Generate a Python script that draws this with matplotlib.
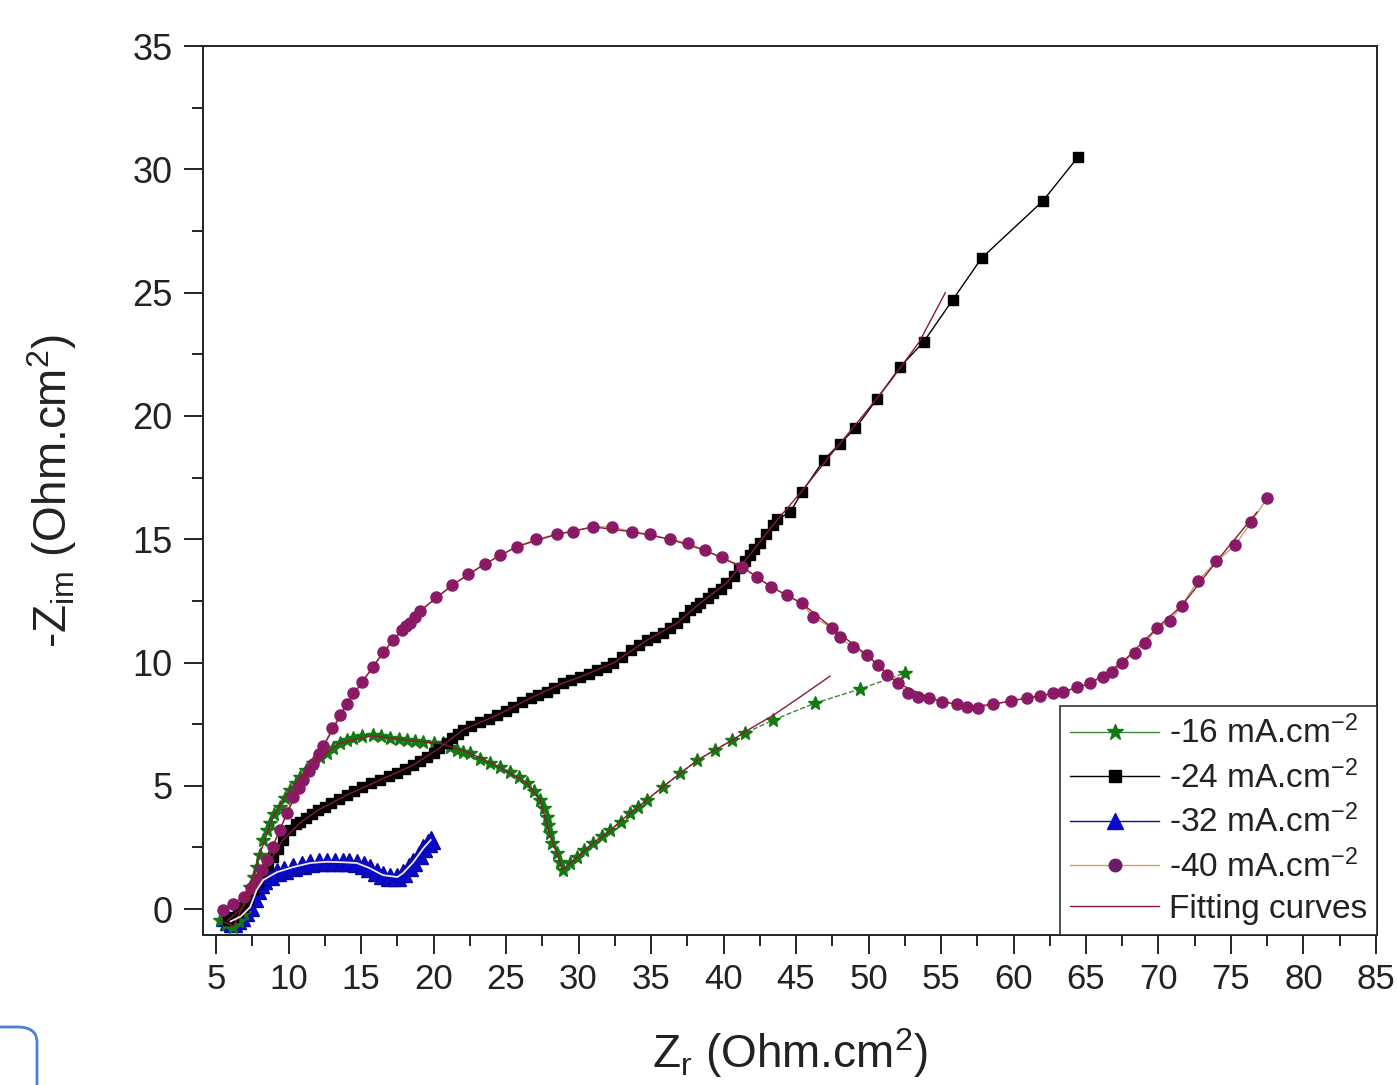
import matplotlib
matplotlib.use('Agg')
import matplotlib.pyplot as plt
from matplotlib.patches import FancyBboxPatch
from matplotlib.lines import Line2D
from matplotlib.ticker import MultipleLocator

plt.rcParams['font.family'] = ['Liberation Sans', 'DejaVu Sans']
plt.rcParams['mathtext.fontset'] = 'custom'
plt.rcParams['mathtext.rm'] = 'Liberation Sans'
plt.rcParams['mathtext.it'] = 'Liberation Sans'
plt.rcParams['mathtext.default'] = 'regular'

# ---------------- data ----------------
labels = ['-16 mA.cm$^{-2}$', '-24 mA.cm$^{-2}$', '-32 mA.cm$^{-2}$', '-40 mA.cm$^{-2}$', 'Fitting curves']

g16_x = [5.3, 5.7, 6.2, 6.6, 6.9, 7.1, 7.35, 7.6, 7.8, 8.0, 8.25, 8.5, 8.7, 9.0, 9.4, 9.75, 10.1, 10.5,
         10.8, 11.2, 11.7, 12.2, 12.65, 13.1, 13.55, 14.0, 14.45, 15.1, 15.8, 16.4, 17.0, 17.6, 18.2,
         18.7, 19.3, 20.0, 20.65, 21.15, 21.6, 22.0, 22.5, 23.2, 23.9, 24.6, 25.3, 25.9, 26.45, 26.9,
         27.35, 27.6, 27.8, 27.9, 28.0, 28.2, 28.5, 28.7, 28.9, 29.4, 29.9, 30.4, 31.0, 31.6, 32.2,
         32.9, 33.55, 34.1, 34.7, 35.8, 37.0, 38.2, 39.4, 40.6, 41.5, 43.4, 46.3, 49.4, 52.5]
g16_y = [-0.45, -0.6, -0.73, -0.5, -0.16, 0.4, 0.9, 1.3, 1.7, 2.2, 2.8, 3.2, 3.5, 3.85, 4.14, 4.5, 4.83,
         5.1, 5.35, 5.65, 5.92, 6.15, 6.33, 6.55, 6.73, 6.85, 6.93, 7.0, 7.06, 7.0, 6.93, 6.9, 6.85, 6.8,
         6.77, 6.75, 6.73, 6.57, 6.45, 6.37, 6.33, 6.1, 5.92, 5.75, 5.56, 5.35, 5.1, 4.8, 4.42, 4.1,
         3.73, 3.4, 3.08, 2.7, 2.27, 1.9, 1.58, 1.85, 2.1, 2.4, 2.68, 2.95, 3.2, 3.55, 3.9, 4.15, 4.42,
         4.95, 5.5, 6.04, 6.45, 6.85, 7.14, 7.66, 8.35, 8.92, 9.57]

b24_x = [5.8, 6.2, 6.5, 6.86, 7.2, 7.55, 7.9, 8.2, 8.55, 8.9, 9.25, 9.6, 10.1, 10.5, 10.8, 11.2, 11.6,
         12.0, 12.5, 12.9, 13.5, 14.0, 14.5, 15.1, 15.7, 16.3, 16.9, 17.5, 18.0, 18.6, 19.1, 19.55,
         20.0, 20.4, 20.9, 21.3, 21.7, 22.0, 22.6, 23.2, 23.8, 24.4, 25.0, 25.5, 26.1, 26.7, 27.2,
         27.8, 28.3, 28.9, 29.5, 30.1, 30.7, 31.3, 31.9, 32.4, 33.0, 33.6, 34.2, 34.7, 35.3, 35.8,
         36.3, 36.8, 37.3, 37.7, 38.1, 38.4, 38.9, 39.3, 39.8, 40.2, 40.7, 41.1, 41.5, 41.8, 42.1,
         42.5, 42.9, 43.4, 43.7, 44.6, 45.4, 46.9, 48.0, 49.1, 50.6, 52.2, 53.8, 55.8, 57.8, 62.0, 64.45]
b24_y = [-0.45, -0.3, -0.1, 0.08, 0.4, 0.77, 1.1, 1.46, 1.8, 2.1, 2.45, 2.8, 3.2, 3.45, 3.55, 3.7, 3.85,
         4.0, 4.15, 4.3, 4.45, 4.62, 4.78, 4.95, 5.1, 5.23, 5.38, 5.52, 5.68, 5.84, 6.0, 6.16, 6.35,
         6.53, 6.73, 6.93, 7.1, 7.26, 7.42, 7.58, 7.72, 7.87, 8.03, 8.19, 8.38, 8.56, 8.68, 8.8, 8.98,
         9.16, 9.28, 9.41, 9.55, 9.69, 9.83, 9.98, 10.24, 10.5, 10.7, 10.9, 11.05, 11.19, 11.4, 11.6,
         11.86, 12.12, 12.27, 12.41, 12.6, 12.81, 13.0, 13.22, 13.5, 13.83, 14.1, 14.36, 14.6, 14.84,
         15.2, 15.57, 15.8, 16.1, 16.9, 18.2, 18.86, 19.5, 20.7, 22.0, 23.0, 24.7, 26.4, 28.7, 30.5]

b32_x = [5.6, 5.9, 6.2, 6.45, 6.7, 7.0, 7.35, 7.6, 7.8, 8.0, 8.25, 8.7, 9.2, 9.7, 10.3, 10.9, 11.5, 12.1,
         12.65, 13.2, 13.75, 14.2, 14.7, 15.2, 15.6, 16.1, 16.5, 17.0, 17.5, 17.9, 18.3, 18.6, 19.0,
         19.3, 19.6, 19.8]
b32_y = [-0.3, -0.5, -0.55, -0.45, -0.3, -0.1, 0.08, 0.45, 0.77, 1.0, 1.18, 1.35, 1.5, 1.6, 1.7, 1.78,
         1.87, 1.9, 1.92, 1.92, 1.9, 1.9, 1.87, 1.78, 1.66, 1.5, 1.38, 1.3, 1.3, 1.46, 1.7, 1.9, 2.2,
         2.47, 2.7, 2.8]

p40_x = [5.5, 6.2, 6.9, 7.4, 7.8, 8.2, 8.5, 8.9, 9.4, 9.9, 10.3, 10.7, 11.0, 11.4, 11.7, 12.1, 12.4, 13.0,
         13.55, 14.0, 14.45, 15.1, 15.8, 16.5, 17.2, 17.8, 18.1, 18.4, 18.7, 19.1, 20.2, 21.3, 22.4,
         23.55, 24.6, 25.75, 27.1, 28.5, 29.6, 31.0, 32.3, 33.7, 34.9, 36.3, 37.55, 38.7, 39.9, 41.3,
         42.3, 43.3, 44.4, 45.4, 46.2, 47.5, 48.0, 48.9, 49.9, 50.65, 51.3, 52.0, 52.7, 53.4, 54.2,
         55.1, 56.1, 56.8, 57.55, 58.6, 59.8, 60.9, 61.8, 62.7, 63.4, 64.4, 65.3, 66.2, 66.8, 67.5,
         68.4, 69.1, 69.9, 70.8, 71.6, 72.7, 74.0, 75.3, 76.4, 77.5]
p40_y = [-0.05, 0.2, 0.5, 0.85, 1.18, 1.6, 2.0, 2.5, 3.2, 3.9, 4.54, 4.9, 5.23, 5.6, 5.9, 6.3, 6.6, 7.34,
         7.87, 8.3, 8.76, 9.2, 9.81, 10.42, 10.9, 11.3, 11.5, 11.6, 11.85, 12.1, 12.65, 13.14, 13.6,
         14.0, 14.35, 14.7, 15.0, 15.2, 15.3, 15.5, 15.5, 15.3, 15.2, 15.0, 14.85, 14.55, 14.27, 13.87,
         13.46, 13.06, 12.73, 12.4, 11.84, 11.4, 11.03, 10.62, 10.3, 9.89, 9.49, 9.16, 8.76, 8.6, 8.56,
         8.39, 8.31, 8.19, 8.15, 8.31, 8.43, 8.56, 8.64, 8.76, 8.8, 9.0, 9.16, 9.4, 9.6, 10.0, 10.4,
         10.8, 11.4, 11.7, 12.3, 13.3, 14.1, 14.76, 15.7, 16.67]

fit16_x = [5.3, 6.2, 7.0, 8.0, 9.0, 10.1, 11.7, 13.5, 15.8, 18.2, 20.6, 22.5, 24.6, 26.45, 27.35, 28.0,
           28.5, 28.9, 29.9, 31.0, 32.2, 33.55, 34.7, 35.8, 37.0, 38.2, 39.4, 40.6, 41.5, 43.4, 45.4, 47.35]
fit16_y = [-0.45, -0.7, 0.3, 2.2, 3.85, 4.83, 5.92, 6.73, 7.03, 6.85, 6.7, 6.33, 5.75, 5.1, 4.42, 3.08,
           2.27, 1.6, 2.1, 2.68, 3.2, 3.9, 4.42, 4.95, 5.5, 6.04, 6.45, 6.85, 7.2, 7.85, 8.65, 9.45]
fit24_x = [5.8, 6.9, 8.2, 9.6, 10.8, 12.0, 14.0, 16.3, 18.6, 20.4, 22.0, 24.4, 26.7, 28.9, 30.1, 32.4,
           34.7, 36.8, 38.4, 40.2, 41.8, 43.4, 45.4, 47.5, 49.6, 51.5, 53.5, 55.3]
fit24_y = [-0.45, 0.1, 1.46, 2.8, 3.5, 4.0, 4.62, 5.23, 5.84, 6.53, 7.26, 7.87, 8.56, 9.16, 9.41, 9.98,
           10.9, 11.6, 12.41, 13.22, 14.36, 15.57, 16.95, 18.5, 20.0, 21.4, 23.0, 25.0]
fit32_x = [6.0, 6.7, 7.35, 7.8, 8.25, 9.2, 10.3, 11.5, 12.65, 13.75, 14.7, 15.6, 16.5, 17.5, 17.9, 18.6,
           19.3, 19.8]
fit32_y = [-0.5, -0.3, 0.08, 0.77, 1.18, 1.5, 1.7, 1.87, 1.92, 1.9, 1.87, 1.66, 1.38, 1.3, 1.46, 1.9,
           2.47, 2.8]
fit40_x = [5.5, 6.9, 8.5, 9.9, 11.0, 12.4, 14.0, 15.8, 17.2, 19.1, 21.3, 23.55, 25.75, 28.5, 31.0, 33.7,
           36.3, 38.7, 41.3, 43.3, 45.4, 47.5, 49.9, 52.0, 54.2, 56.8, 58.6, 60.9, 63.4, 65.3, 67.5, 69.9,
           71.6, 74.0, 76.8]
fit40_y = [-0.05, 0.5, 2.0, 3.9, 5.23, 6.6, 8.3, 9.81, 10.9, 12.1, 13.14, 14.0, 14.7, 15.2, 15.5, 15.3,
           15.0, 14.55, 13.87, 13.06, 12.4, 11.4, 10.3, 9.16, 8.56, 8.19, 8.31, 8.56, 8.8, 9.16, 10.0,
           11.4, 12.3, 14.1, 16.1]

# ---------------- figure ----------------
fig = plt.figure(figsize=(13.97, 10.85), dpi=100)
ax = fig.add_axes([203 / 1397, 1 - 935 / 1085, (1377 - 203) / 1397, (935 - 46) / 1085])

c_green = '#137A13'
c_black = '#000000'
c_blue = '#0A0ACC'
c_purple = '#8A1A6E'
c_fit = '#8B1A3A'

ax.plot(b32_x, b32_y, color=c_blue, lw=1.0, marker='^', ms=12.5, mec='#0808A0', mfc=c_blue, zorder=2)
ax.plot(g16_x, g16_y, color='#3A8A3A', lw=1.0, ls='--', marker='*', ms=10.5, mec=c_green, mfc=c_green, zorder=3)
ax.plot(b24_x, b24_y, color=c_black, lw=1.0, marker='s', ms=7.5, mec=c_black, mfc=c_black, zorder=4)
ax.plot(p40_x, p40_y, color='#C8A060', lw=1.0, marker='o', ms=8, mec=c_purple, mfc=c_purple, zorder=5)

ax.plot(fit16_x, fit16_y, color=c_fit, lw=1.0, zorder=6)
ax.plot(fit24_x, fit24_y, color=c_fit, lw=1.0, zorder=6)
ax.plot(fit32_x, fit32_y, color='#F0E8F0', lw=1.3, zorder=6)
ax.plot(fit40_x, fit40_y, color=c_fit, lw=1.0, zorder=6)

ax.set_xlim(4.1, 85.07)
ax.set_ylim(-1.05, 35)
ax.xaxis.set_major_locator(MultipleLocator(5))
ax.xaxis.set_minor_locator(MultipleLocator(2.5))
ax.yaxis.set_major_locator(MultipleLocator(5))
ax.yaxis.set_minor_locator(MultipleLocator(2.5))
ax.tick_params(which='both', direction='out', top=False, right=False, width=1.4, colors='#222222')
ax.tick_params(which='major', length=14)
ax.tick_params(which='minor', length=8)
ax.tick_params(axis='y', labelsize=26, pad=8)
ax.tick_params(axis='x', labelsize=25, pad=6)
for s in ax.spines.values():
    s.set_linewidth(1.4)
    s.set_color('#222222')

ax.set_xlabel('Z$_r$ (Ohm.cm$^2$)', fontsize=33, labelpad=22, color='#222222')
ax.set_ylabel('-Z$_{im}$ (Ohm.cm$^2$)', fontsize=33, labelpad=38, color='#222222')

handles = [
    Line2D([], [], color='#3A8A3A', lw=1.0, marker='*', ms=12, mec=c_green, mfc=c_green),
    Line2D([], [], color=c_black, lw=1.0, marker='s', ms=8, mec=c_black, mfc=c_black),
    Line2D([], [], color='#10108A', lw=1.0, marker='^', ms=11, mec=c_blue, mfc=c_blue),
    Line2D([], [], color='#C8A060', lw=1.0, marker='o', ms=9, mec='#6B1A6B', mfc='#6B1A6B'),
    Line2D([], [], color=c_fit, lw=1.0),
]
leg = ax.legend(handles, labels, loc='lower right', fontsize=24, frameon=True, fancybox=False,
                edgecolor='#222222', borderaxespad=0, handlelength=2.65, handletextpad=0.3,
                labelspacing=0.3, borderpad=0.3)
leg.get_frame().set_linewidth(1.4)
for t in leg.get_texts():
    t.set_color('#222222')

# screenshot artefact at bottom-left corner
box = FancyBboxPatch((-20 / 1397, -20 / 1085), 57 / 1397, 78 / 1085,
                     boxstyle='round,pad=0,rounding_size=0.014', transform=fig.transFigure,
                     fill=False, edgecolor='#4A7FD4', lw=2.0, clip_on=False)
fig.patches.append(box)

fig.savefig('out.png', dpi=100)
